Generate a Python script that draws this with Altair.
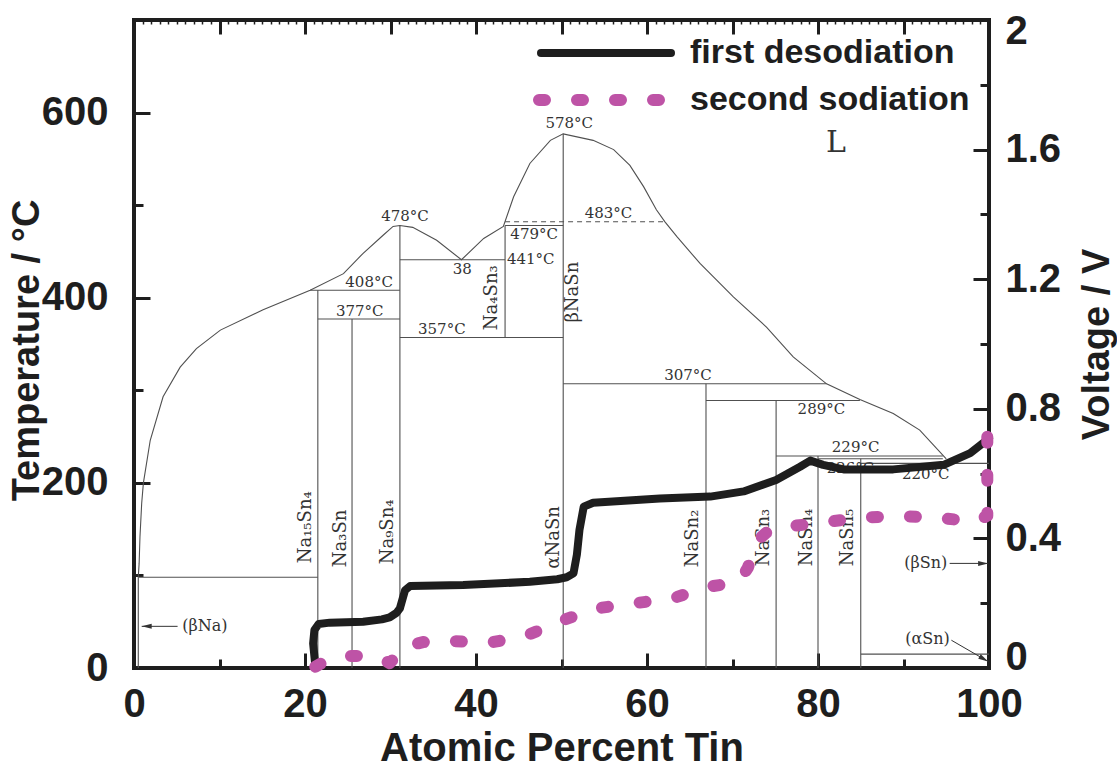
import altair as alt
import pandas as pd

# ---------------- data ----------------
# liquidus of the Na-Sn phase diagram (x = at.% Sn, T in degC)
liq_x = [0.5, 0.6, 0.7, 0.9, 1.1, 1.9, 3.4, 5.4, 7.3, 10.1, 15.1, 20.6, 24.5, 26.8, 29.2, 30.3, 31.1,
         32.6, 35.4, 38.3, 40.9, 43.2, 44.4, 46.3, 48.7, 50.2, 53.7, 56.1, 58.0, 59.6, 61.1, 62.1,
         63.5, 66.2, 70.1, 74.0, 77.1, 81.0, 84.9, 88.8, 91.9, 95.0]
liq_t = [98, 113, 142, 178, 200, 246, 293, 325, 345, 365, 387, 408, 426, 448, 468, 477, 478,
         476, 462, 441, 464, 477, 509, 545, 570, 577, 570, 560, 543, 520, 495, 482,
         466, 437, 401, 368, 336, 307, 290, 275, 257, 226]

# horizontal isotherms
iso_x1 = [0.5, 20.6, 21.5, 31.1, 31.1, 43.4, 50.2, 66.9, 75.1, 80.0, 85.0, 85.0]
iso_x2 = [21.5, 31.1, 31.1, 43.4, 50.2, 50.2, 81.0, 84.9, 94.6, 94.6, 100.0, 100.0]
iso_t = [98, 408, 377, 441, 357, 478, 307, 289, 229, 226, 221, 15]

# dashed isotherm
dash_x1 = [43.4]
dash_x2 = [62.1]
dash_t = [482]

# vertical phase boundaries
vert_x = [0.5, 21.5, 25.5, 31.1, 43.4, 50.2, 66.9, 75.1, 80.0, 85.0]
vert_t1 = [0, 0, 0, 0, 357, 0, 0, 0, 0, 0]
vert_t2 = [98, 408, 377, 478, 478, 577, 307, 289, 229, 226]

# temperature annotations
tl_text = ["578°C", "478°C", "408°C", "377°C", "38", "479°C", "441°C", "357°C",
           "483°C", "307°C", "289°C", "229°C", "220°C"]
tl_x = [50.9, 31.7, 27.5, 26.4, 38.4, 46.8, 46.4, 36.0, 55.5, 64.8, 80.4, 84.4, 92.6]
tl_t = [589, 488, 417, 386, 431, 469, 442, 366, 492, 317, 280, 239, 210]

# annotation hidden under the first desodiation curve
hid_text = ["226°C"]
hid_x = [83.8]
hid_t = [216]

# compound labels (rotated)
ph_text = ["Na₁₅Sn₄", "Na₃Sn", "Na₉Sn₄", "αNaSn", "Na₄Sn₃", "βNaSn",
           "NaSn₂", "NaSn₃", "NaSn₄", "NaSn₅"]
ph_x = [20.1, 24.2, 29.7, 49.1, 41.9, 51.4, 65.4, 73.7, 78.7, 83.5]
ph_t = [152, 140, 147, 141, 400, 406, 140, 141, 141, 141]

# region labels
rg_text = ["(βNa)", "(βSn)", "(αSn)"]
rg_x = [8.3, 92.6, 92.8]
rg_t = [45, 113, 31]

liquid_text = ["L"]
liquid_x = [82.1]
liquid_t = [567]

# arrows of the region labels
ar_x1 = [5.1, 95.4, 95.6]
ar_t1 = [45, 113, 30]
ar_x2 = [0.9, 99.9, 99.9]
ar_t2 = [45, 113, 7]
ar_ang = [180, 0, 30]

# voltage curves (V)
des_x = [21.2, 20.95, 21.1, 21.6, 22.9, 26.8, 29.0, 29.9, 30.7, 31.1, 31.7, 32.3, 38.5, 46.3,
         49.5, 50.6, 51.4, 51.8, 52.1, 52.6, 53.7, 61.5, 67.4, 71.3, 75.1, 77.9, 79.1, 80.6,
         83.0, 88.8, 94.7, 97.8, 100.0]
des_v = [0.01, 0.076, 0.117, 0.136, 0.14, 0.143, 0.15, 0.156, 0.17, 0.184, 0.24, 0.253, 0.256, 0.266,
         0.274, 0.28, 0.292, 0.35, 0.426, 0.498, 0.51, 0.523, 0.529, 0.545, 0.58, 0.621, 0.64, 0.627,
         0.613, 0.613, 0.627, 0.663, 0.709]

sod_x = [21.2, 23.0, 25.0, 27.0, 28.5, 29.9, 30.8, 32.0, 33.8, 37.2, 41.6, 45.9, 50.0, 54.1,
         58.6, 63.0, 67.2, 70.0, 71.0, 71.8, 72.5, 73.2, 74.5, 76.3, 80.6, 84.9, 89.4, 93.9,
         98.4, 99.8, 99.8]
sod_v = [0.004, 0.03, 0.037, 0.037, 0.035, 0.015, 0.04, 0.068, 0.08, 0.083, 0.078, 0.100, 0.146, 0.184,
         0.200, 0.215, 0.251, 0.262, 0.275, 0.31, 0.36, 0.40, 0.43, 0.436, 0.449, 0.464, 0.469, 0.464,
         0.452, 0.47, 0.80]

legend_labels = ["first desodiation", "second sodiation"]

x_major = [0, 20, 40, 60, 80, 100]
x_minor = [10, 30, 50, 70, 90]
x_fine = list(range(0, 101))
t_major = [0, 200, 400, 600]
t_minor = [100, 300, 500, 700]
v_major = [0, 0.4, 0.8, 1.2, 1.6, 2]
v_minor = [0.2, 0.6, 1.0, 1.4, 1.8]

# ---------------- styles ----------------
LINE = "#505050"
TXT = "#333333"
INK = "#1e1e1e"
MAG = "#BE53A6"
SERIF = "DejaVu Serif"
SANS = "Liberation Sans"

XS = alt.Scale(domain=[0, 100], nice=False, zero=False)
TS = alt.Scale(domain=[0, 700], nice=False, zero=False)
VS = alt.Scale(domain=[0, 2], nice=False, zero=False)

df_liq = pd.DataFrame({"x": liq_x, "t": liq_t, "i": range(len(liq_x))})
df_iso = pd.DataFrame({"x1": iso_x1, "x2": iso_x2, "t": iso_t})
df_dash = pd.DataFrame({"x1": dash_x1, "x2": dash_x2, "t": dash_t})
df_vert = pd.DataFrame({"x": vert_x, "t1": vert_t1, "t2": vert_t2})
df_tl = pd.DataFrame({"x": tl_x, "t": tl_t, "s": tl_text})
df_hid = pd.DataFrame({"x": hid_x, "t": hid_t, "s": hid_text})
df_ph = pd.DataFrame({"x": ph_x, "t": ph_t, "s": ph_text})
df_rg = pd.DataFrame({"x": rg_x, "t": rg_t, "s": rg_text})
df_L = pd.DataFrame({"x": liquid_x, "t": liquid_t, "s": liquid_text})
df_ar = pd.DataFrame({"x1": ar_x1, "t1": ar_t1, "x2": ar_x2, "t2": ar_t2, "a": ar_ang})
df_des = pd.DataFrame({"x": des_x, "v": des_v, "i": range(len(des_x))})
df_sod = pd.DataFrame({"x": sod_x, "v": sod_v, "i": range(len(sod_x))})
df_ax = pd.DataFrame({"x": [0], "t": [0], "v": [0]})


def xq(f):
    return alt.X(f, type="quantitative", scale=XS, axis=None)


def tq(f):
    return alt.Y(f, type="quantitative", scale=TS, axis=None)


def vq(f):
    return alt.Y(f, type="quantitative", scale=VS, axis=None)


iso = alt.Chart(df_iso).mark_rule(color=LINE, strokeWidth=1.1).encode(
    x=xq("x1"), x2="x2:Q", y=tq("t"))
dashed = alt.Chart(df_dash).mark_rule(color=LINE, strokeWidth=1.1, strokeDash=[5, 4]).encode(
    x=xq("x1"), x2="x2:Q", y=tq("t"))
vert = alt.Chart(df_vert).mark_rule(color=LINE, strokeWidth=1.1).encode(
    x=xq("x"), y=tq("t1"), y2="t2:Q")
liq = alt.Chart(df_liq).mark_line(color=LINE, strokeWidth=1.1).encode(
    x=xq("x"), y=tq("t"), order="i:Q")

tlab = alt.Chart(df_tl).mark_text(font=SERIF, fontSize=15, color=TXT).encode(
    x=xq("x"), y=tq("t"), text="s:N")
hid = alt.Chart(df_hid).mark_text(font=SERIF, fontSize=15, color=TXT).encode(
    x=xq("x"), y=tq("t"), text="s:N")
phl = alt.Chart(df_ph).mark_text(font=SERIF, fontSize=18, color=TXT, angle=270).encode(
    x=xq("x"), y=tq("t"), text="s:N")
rgl = alt.Chart(df_rg).mark_text(font=SERIF, fontSize=16, color=TXT).encode(
    x=xq("x"), y=tq("t"), text="s:N")
Ll = alt.Chart(df_L).mark_text(font=SERIF, fontSize=30, color=TXT).encode(
    x=xq("x"), y=tq("t"), text="s:N")
ar = alt.Chart(df_ar).mark_rule(color=TXT, strokeWidth=1).encode(
    x=xq("x1"), y=tq("t1"), x2="x2:Q", y2="t2:Q")
heads = alt.Chart(df_ar).mark_point(
    shape="M0,0L-2,-0.5L-2,0.5Z", filled=True, color=TXT, size=100, opacity=1).encode(
    x=xq("x2"), y=tq("t2"), angle=alt.Angle("a:Q", scale=None))

des = alt.Chart(df_des).mark_line(color=INK, strokeWidth=8, strokeCap="round",
                                  strokeJoin="round").encode(x=xq("x"), y=vq("v"), order="i:Q")
sod = alt.Chart(df_sod).mark_line(color=MAG, strokeWidth=12, strokeCap="round",
                                  strokeJoin="round", strokeDash=[6, 32]).encode(
    x=xq("x"), y=vq("v"), order="i:Q")

# legend (drawn in the top of the plot area)
leg1_line = alt.Chart(pd.DataFrame({"s": [legend_labels[0]]})).mark_rule(
    color=INK, strokeWidth=8, strokeCap="round").encode(
    x=alt.value(407), x2=alt.value(537), y=alt.value(33))
leg2_line = alt.Chart(pd.DataFrame({"s": [legend_labels[1]]})).mark_rule(
    color=MAG, strokeWidth=12, strokeCap="round", strokeDash=[6, 32]).encode(
    x=alt.value(405), x2=alt.value(526), y=alt.value(80))
leg1_text = alt.Chart(pd.DataFrame({"s": [legend_labels[0]]})).mark_text(
    font=SANS, fontSize=34, fontWeight="bold", color=INK, align="left", baseline="middle").encode(
    x=alt.value(556), y=alt.value(33), text="s:N")
leg2_text = alt.Chart(pd.DataFrame({"s": [legend_labels[1]]})).mark_text(
    font=SANS, fontSize=34, fontWeight="bold", color=INK, align="left", baseline="middle").encode(
    x=alt.value(556), y=alt.value(80), text="s:N")

# ---------------- axes ----------------
LBL = dict(labelFont=SANS, labelFontWeight="bold", labelFontSize=40, labelColor=INK,
           titleFont=SANS, titleFontWeight="bold", titleColor=INK,
           grid=False, domain=False, ticks=False)


def tick_axis(orient, values, size, width=3):
    return alt.Axis(orient=orient, values=values, offset=-size, tickSize=size, tickWidth=width,
                    tickColor=INK, labels=False, domain=False, grid=False, title=None)


def ax_layer(xaxis, yfield, yscale, yaxis):
    return alt.Chart(df_ax).mark_point(opacity=0).encode(
        x=alt.X("x:Q", scale=XS, axis=xaxis),
        y=alt.Y(yfield, scale=yscale, axis=yaxis))


axA = ax_layer(
    alt.Axis(orient="bottom", values=x_major, labelPadding=16, labelFlush=False,
             title="Atomic Percent Tin", titleFontSize=40, titleBaseline="alphabetic",
             titleY=92, **LBL),
    "t:Q", TS,
    alt.Axis(orient="left", values=t_major, labelPadding=26, title="Temperature / °C",
             titleFontSize=38, titleAngle=270, titleBaseline="middle", titleX=-107,
             titleY=330, **LBL))
axB = ax_layer(tick_axis("bottom", x_major, 15), "t:Q", TS, tick_axis("left", t_major, 16))
axC = ax_layer(tick_axis("bottom", x_minor, 9), "t:Q", TS, tick_axis("left", t_minor, 9))
axD = ax_layer(tick_axis("top", x_major + x_minor, 14), "v:Q", VS,
               alt.Axis(orient="right", values=v_major, labelPadding=16, title="Voltage / V",
                        labelExpr="datum.value == 0 ? '0' : datum.value == 2 ? '2' : format(datum.value, '.1f')",
                        labelFlush=True, labelFlushOffset=9,
                        titleFontSize=38, titleAngle=270, titleBaseline="middle", titleX=108,
                        titleY=324, **LBL))
axE = ax_layer(tick_axis("top", x_fine, 4, 1.5), "v:Q", VS, tick_axis("right", v_major, 16))
axF = ax_layer(tick_axis("top", [0], 0), "v:Q", VS, tick_axis("right", v_minor, 9))

chart = alt.layer(
    iso, dashed, vert, liq, tlab, hid, phl, rgl, Ll, ar, heads,
    des, sod, leg1_line, leg2_line, leg1_text, leg2_text,
    axA, axB, axC, axD, axE, axF,
).resolve_scale(y="independent").resolve_axis(x="independent", y="independent").properties(
    width=855, height=648,
    padding={"left": 134, "top": 20, "right": 128, "bottom": 101},
    autosize=alt.AutoSizeParams(type="none"),
    background="white",
).configure_view(stroke=INK, strokeWidth=4)

chart.save("out.html", embed_options={"renderer": "svg", "actions": False})
